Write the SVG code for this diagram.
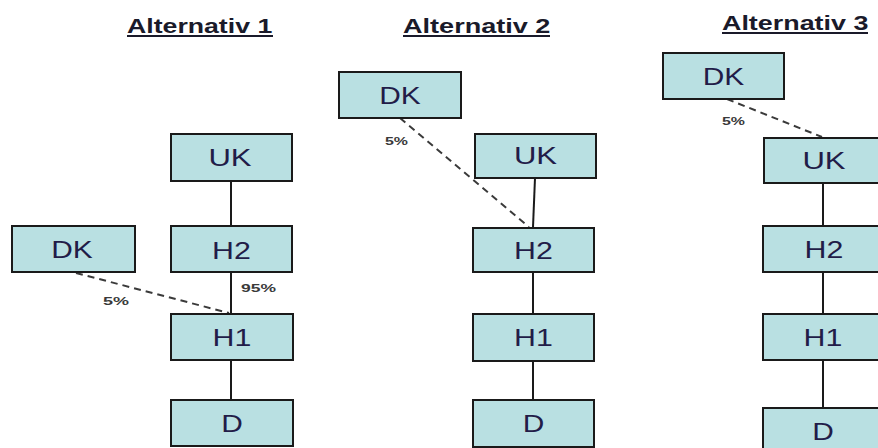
<svg xmlns="http://www.w3.org/2000/svg" width="878" height="448" viewBox="0 0 878 448">
<style>
.box{fill:#b9e0e2;stroke:#1a1a1a;stroke-width:2}
.lbl{font-family:"Liberation Sans",Arial,sans-serif;font-size:23px;fill:#221c48;text-anchor:middle}
.title{font-family:"Liberation Sans",Arial,sans-serif;font-size:21px;font-weight:bold;fill:#1a1a2a}
.ul{stroke:#1a1a2a;stroke-width:2}
.pct{font-family:"Liberation Sans",Arial,sans-serif;font-size:11px;font-weight:bold;fill:#3a3a3a}
.solid{stroke:#1a1a1a;stroke-width:2;fill:none}
.dash{stroke:#3a3a3a;stroke-width:2;stroke-dasharray:7 5;fill:none}
</style>
<rect width="878" height="448" fill="#ffffff"/>
<g id="titles">
<text class="title" transform="translate(127,33) scale(1.27,1)">Alternativ 1</text>
<line class="ul" x1="127" y1="36" x2="273" y2="36"/>
<text class="title" transform="translate(403,33) scale(1.29,1)">Alternativ 2</text>
<line class="ul" x1="403" y1="36" x2="550" y2="36"/>
<text class="title" transform="translate(722,30) scale(1.28,1)">Alternativ 3</text>
<line class="ul" x1="722" y1="33" x2="868" y2="33"/>
</g>
<g id="connectors">
<line class="solid" x1="231" y1="181" x2="231" y2="226"/>
<line class="solid" x1="231" y1="272" x2="231" y2="314"/>
<line class="solid" x1="231" y1="360" x2="231" y2="400"/>
<line class="dash" x1="76" y1="273" x2="229" y2="313"/>
<line class="solid" x1="535" y1="178" x2="533" y2="227"/>
<line class="solid" x1="533" y1="272" x2="533" y2="314"/>
<line class="solid" x1="533" y1="361" x2="533" y2="400"/>
<line class="dash" x1="400" y1="118" x2="529" y2="227"/>
<line class="solid" x1="823" y1="183" x2="823" y2="226"/>
<line class="solid" x1="823" y1="272" x2="823" y2="314"/>
<line class="solid" x1="823" y1="360" x2="823" y2="408" stroke="#777"/>
<line class="dash" x1="727" y1="99" x2="822" y2="137"/>
<text class="pct" x="241" y="292" textLength="35" lengthAdjust="spacingAndGlyphs">95%</text>
<text class="pct" x="103" y="305" textLength="26" lengthAdjust="spacingAndGlyphs">5%</text>
<text class="pct" x="385" y="145" textLength="23" lengthAdjust="spacingAndGlyphs">5%</text>
<text class="pct" x="722" y="125" textLength="23" lengthAdjust="spacingAndGlyphs">5%</text>
</g>
<g id="a1-uk"><rect class="box" x="171" y="134" width="121" height="47"/><text class="lbl" transform="translate(230,166) scale(1.35,1)">UK</text></g>
<g id="a1-dk"><rect class="box" x="12" y="226" width="123" height="46"/><text class="lbl" transform="translate(72,258) scale(1.3,1)">DK</text></g>
<g id="a1-h2"><rect class="box" x="171" y="226" width="121" height="46"/><text class="lbl" transform="translate(231.5,259) scale(1.32,1)">H2</text></g>
<g id="a1-h1"><rect class="box" x="171" y="314" width="122" height="46"/><text class="lbl" transform="translate(232,346) scale(1.32,1)">H1</text></g>
<g id="a1-d"><rect class="box" x="171" y="400" width="122" height="46"/><text class="lbl" transform="translate(232,432) scale(1.3,1)">D</text></g>
<g id="a2-dk"><rect class="box" x="339" y="72" width="122" height="46"/><text class="lbl" transform="translate(400,104) scale(1.3,1)">DK</text></g>
<g id="a2-uk"><rect class="box" x="475" y="134" width="121" height="44"/><text class="lbl" transform="translate(535.5,164) scale(1.35,1)">UK</text></g>
<g id="a2-h2"><rect class="box" x="473" y="228" width="121" height="44"/><text class="lbl" transform="translate(533.5,259) scale(1.32,1)">H2</text></g>
<g id="a2-h1"><rect class="box" x="473" y="314" width="121" height="47"/><text class="lbl" transform="translate(533.5,346) scale(1.32,1)">H1</text></g>
<g id="a2-d"><rect class="box" x="473" y="400" width="121" height="47"/><text class="lbl" transform="translate(533.5,432) scale(1.3,1)">D</text></g>
<g id="a3-dk"><rect class="box" x="663" y="53" width="121" height="46"/><text class="lbl" transform="translate(723.5,85) scale(1.3,1)">DK</text></g>
<g id="a3-uk"><rect class="box" x="764" y="138" width="121" height="45"/><text class="lbl" transform="translate(824,169) scale(1.35,1)">UK</text></g>
<g id="a3-h2"><rect class="box" x="763" y="226" width="121" height="46"/><text class="lbl" transform="translate(824,258) scale(1.32,1)">H2</text></g>
<g id="a3-h1"><rect class="box" x="763" y="314" width="121" height="46"/><text class="lbl" transform="translate(823,346) scale(1.32,1)">H1</text></g>
<g id="a3-d"><rect class="box" x="763" y="408" width="121" height="46"/><text class="lbl" transform="translate(823,440) scale(1.3,1)">D</text></g>
</svg>
